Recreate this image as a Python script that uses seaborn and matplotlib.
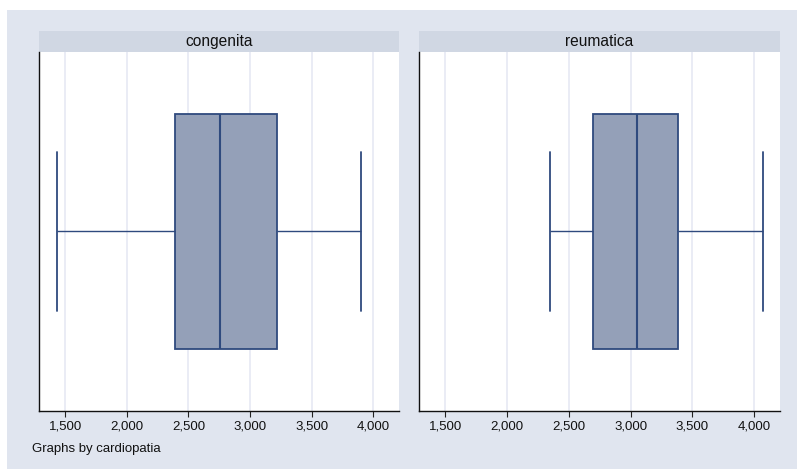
import matplotlib
matplotlib.use("Agg")
import matplotlib.pyplot as plt
from matplotlib.patches import Rectangle
from matplotlib.ticker import FuncFormatter
import numpy as np
import pandas as pd
import seaborn as sns

# Five-number summaries of the variable, by type of heart disease
groups = ["congenita", "reumatica"]
minimum = [1433, 2347]
q1 = [2395, 2696]
median = [2755, 3055]
q3 = [3222, 3387]
maximum = [3900, 4067]
xticks = [1500, 2000, 2500, 3000, 3500, 4000]

rows = []
for g, a, b, c, d, e in zip(groups, minimum, q1, median, q3, maximum):
    for v in (a, b, c, d, e):
        rows.append({"cardiopatia": g, "valor": v})
df = pd.DataFrame(rows)

sns.set_theme(style="white")
plt.rcParams["font.family"] = ["Liberation Sans", "DejaVu Sans"]

W, H = 797, 469
fig = plt.figure(figsize=(W / 100, H / 100), dpi=100)
fig.patch.set_facecolor("white")

BG = "#E0E5EF"
STRIP = "#D0D7E3"
FILL = "#94A0B8"
EDGE = "#2F4A7E"
GRID = "#E8EBF4"

fig.patches.append(Rectangle((7 / W, 0), 1 - 7 / W, 1 - 10 / H,
                             transform=fig.transFigure, facecolor=BG,
                             edgecolor="none", zorder=-10))

panels = [(39, 399), (419, 780)]
top_px, bot_px = 52, 411

for (x0, x1), g in zip(panels, groups):
    ax = fig.add_axes([x0 / W, 1 - bot_px / H, (x1 - x0) / W, (bot_px - top_px) / H])
    ax.set_facecolor("white")
    sub = df[df["cardiopatia"] == g]
    sns.boxplot(data=sub, x="valor", ax=ax, whis=(0, 100), width=0.8,
                color=FILL, linecolor=EDGE, linewidth=1.3, fill=True,
                boxprops=dict(facecolor=FILL, edgecolor=EDGE),
                medianprops=dict(color=EDGE, linewidth=1.5),
                whiskerprops=dict(color=EDGE, linewidth=1.0),
                capprops=dict(color=EDGE, linewidth=1.3),
                capwidths=0.54)
    ax.set_xlim(1288, 4208)
    ax.set_ylim(-0.6085, 0.6085)
    ax.set_xticks(xticks)
    ax.xaxis.set_major_formatter(FuncFormatter(lambda v, p: f"{int(v):,}"))
    ax.set_yticks([])
    ax.set_xlabel("")
    ax.set_ylabel("")
    ax.grid(axis="x", color=GRID, linewidth=1.3)
    ax.set_axisbelow(True)
    for s in ("top", "right"):
        ax.spines[s].set_visible(False)
    for s in ("left", "bottom"):
        ax.spines[s].set_visible(True)
        ax.spines[s].set_color("#111111")
        ax.spines[s].set_linewidth(1.0)
    ax.tick_params(axis="x", direction="out", length=4, width=0.8,
                   color="#222222", labelsize=9.5, labelcolor="#111111", pad=3,
                   bottom=True)
    # strip header with the group name
    fig.patches.append(Rectangle((x0 / W, 1 - top_px / H), (x1 - x0) / W, 21 / H,
                                 transform=fig.transFigure, facecolor=STRIP,
                                 edgecolor="none", zorder=-5))
    fig.text((x0 + x1) / 2 / W, 1 - (top_px - 10.5) / H, g, ha="center",
             va="center", fontsize=11.2, color="#111111")

fig.text(32 / W, 1 - 449 / H, "Graphs by cardiopatia", ha="left", va="center",
         fontsize=9.5, color="#111111")

fig.savefig("out.png", dpi=100, facecolor=fig.get_facecolor())
